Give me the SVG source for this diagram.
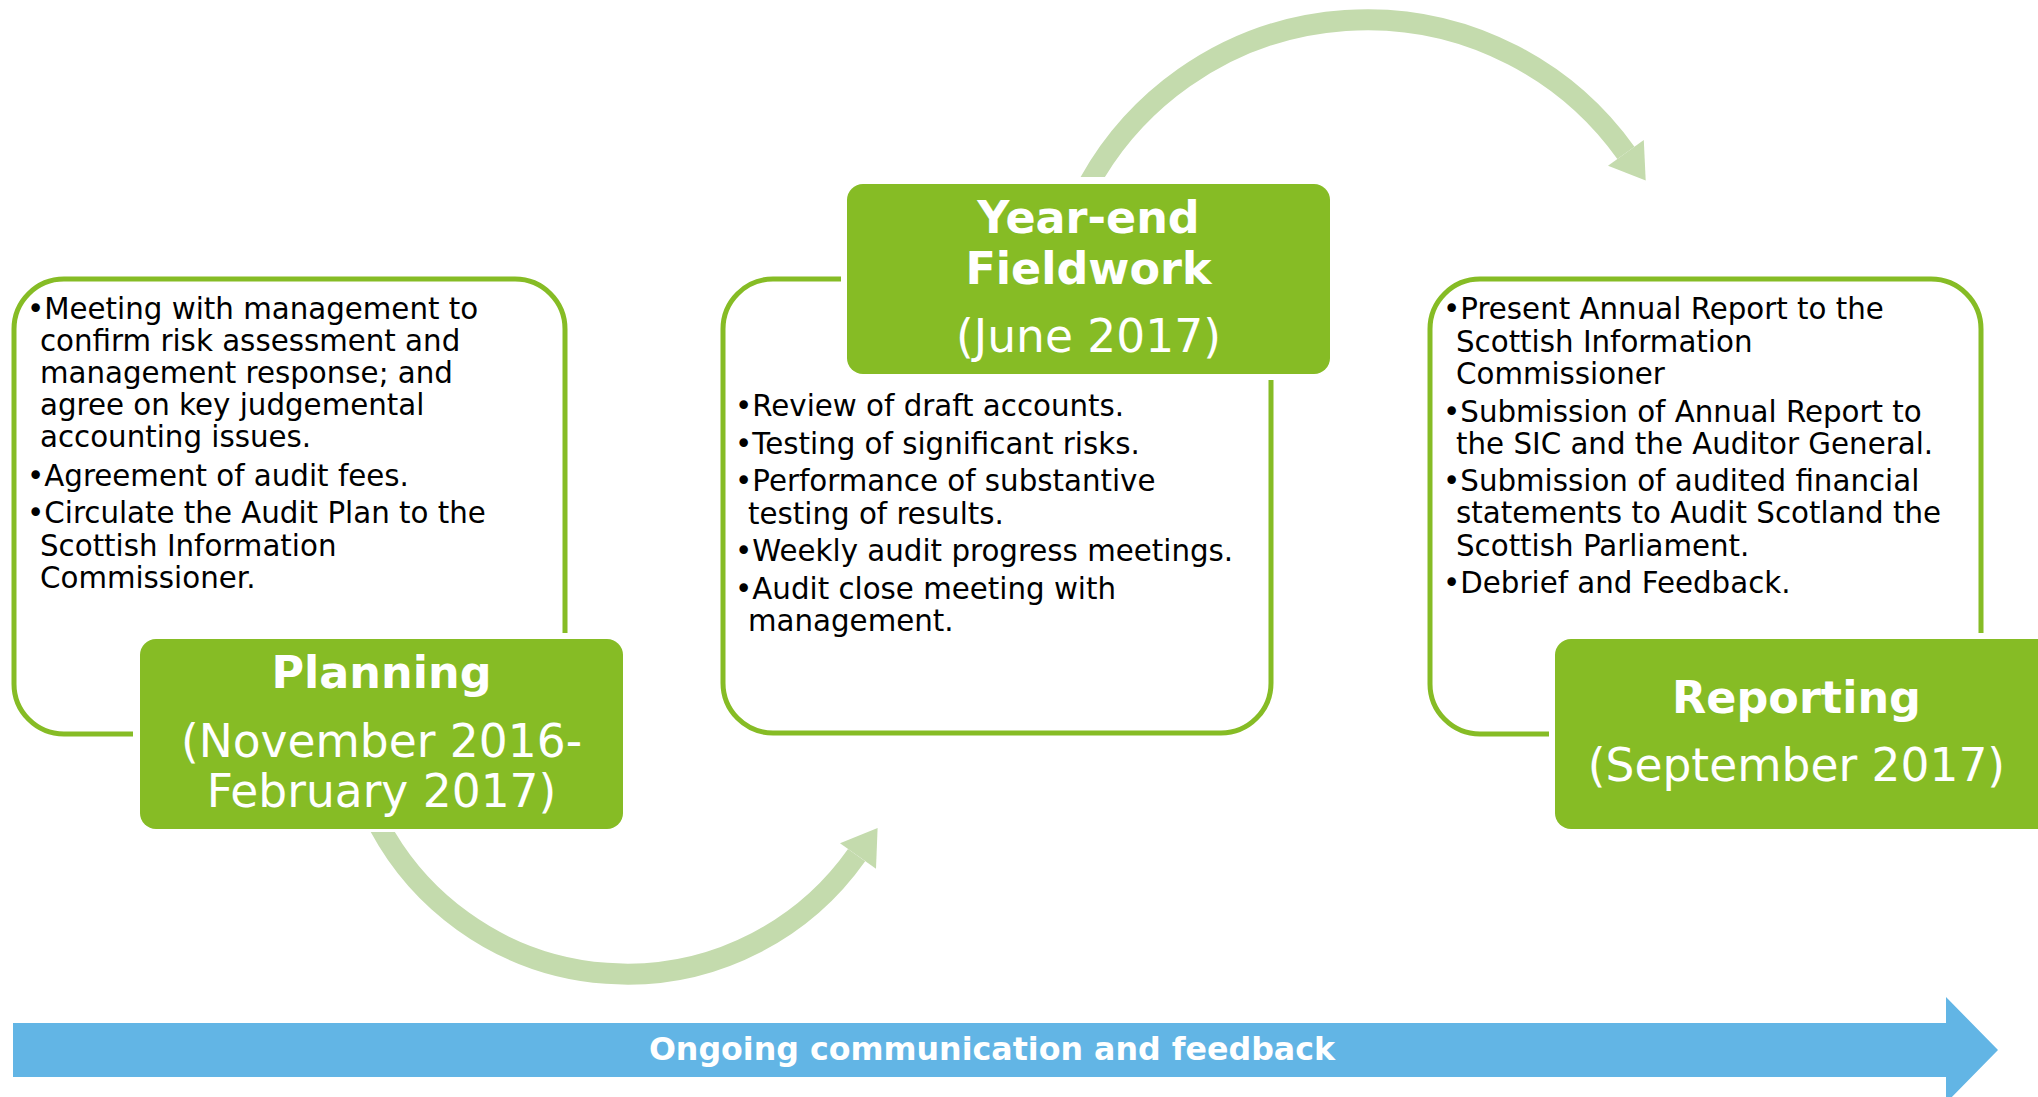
<svg xmlns="http://www.w3.org/2000/svg" width="2038" height="1097" viewBox="0 0 2038 1097">
<style>
.outline{fill:none;stroke:#86bc25;stroke-width:5}
.box{fill:#86bc25}
.body{font-family:"DejaVu Sans",Verdana,sans-serif;font-size:29.3px;fill:#000}
.title{font-family:"DejaVu Sans",Verdana,sans-serif;font-size:44.5px;font-weight:bold;fill:#fff;text-anchor:middle}
.date{font-family:"DejaVu Sans",Verdana,sans-serif;font-size:45.5px;fill:#fff;text-anchor:middle}
.arc{fill:none;stroke:#c4dbad;stroke-width:21}
.head{fill:#c4dbad}
.bar{fill:#62b5e5}
.bartext{font-family:"DejaVu Sans",Verdana,sans-serif;font-size:31.7px;font-weight:bold;fill:#fff;text-anchor:middle}
</style>
<defs>
<clipPath id="clipTop"><rect x="0" y="0" width="2038" height="177"/></clipPath>
<clipPath id="clipBottom"><rect x="0" y="832" width="2038" height="265"/></clipPath>
</defs>
<g id="connectors">
<path class="arc" clip-path="url(#clipTop)" d="M1085.5 190 A318 318 0 0 1 1625.9 152.9"/>
<polygon class="head" points="1643.8,140.1 1645.7,180.6 1608,165.7"/>
<path class="arc" clip-path="url(#clipBottom)" d="M376.3 820 A281 281 0 0 0 856.6 855.1"/>
<polygon class="head" points="840,843.3 877.6,828 876,868.7"/>
</g>
<g id="planning">
<path class="outline" d="M565 633 V329 A50 50 0 0 0 515 279 H64 A50 50 0 0 0 14 329 V684 A50 50 0 0 0 64 734 H133"/>
<text class="body"><tspan x="27" y="319">•Meeting with management to</tspan><tspan x="40" y="351">confirm risk assessment and</tspan><tspan x="40" y="383">management response; and</tspan><tspan x="40" y="415">agree on key judgemental</tspan><tspan x="40" y="447">accounting issues.</tspan><tspan x="27" y="486">•Agreement of audit fees.</tspan><tspan x="27" y="523">•Circulate the Audit Plan to the</tspan><tspan x="40" y="555.5">Scottish Information</tspan><tspan x="40" y="588">Commissioner.</tspan></text>
<rect class="box" x="140" y="639" width="483" height="190" rx="16"/>
<text class="title" x="381.5" y="688">Planning</text>
<text class="date" x="381.5" y="757">(November 2016-</text>
<text class="date" x="381.5" y="807">February 2017)</text>
</g>
<g id="fieldwork">
<path class="outline" d="M841 279 H773 A50 50 0 0 0 723 329 V683 A50 50 0 0 0 773 733 H1221 A50 50 0 0 0 1271 683 V380"/>
<text class="body"><tspan x="735" y="416">•Review of draft accounts.</tspan><tspan x="735" y="454">•Testing of significant risks.</tspan><tspan x="735" y="491">•Performance of substantive</tspan><tspan x="748" y="523.5">testing of results.</tspan><tspan x="735" y="561">•Weekly audit progress meetings.</tspan><tspan x="735" y="598.5">•Audit close meeting with</tspan><tspan x="748" y="631">management.</tspan></text>
<rect class="box" x="847" y="184" width="483" height="190" rx="16"/>
<text class="title" x="1088.5" y="233">Year-end</text>
<text class="title" x="1088.5" y="283.5">Fieldwork</text>
<text class="date" x="1088.5" y="352">(June 2017)</text>
</g>
<g id="reporting">
<path class="outline" d="M1981 633 V329 A50 50 0 0 0 1931 279 H1480 A50 50 0 0 0 1430 329 V684 A50 50 0 0 0 1480 734 H1549"/>
<text class="body"><tspan x="1443" y="319">•Present Annual Report to the</tspan><tspan x="1456" y="351.5">Scottish Information</tspan><tspan x="1456" y="383.5">Commissioner</tspan><tspan x="1443" y="421.5">•Submission of Annual Report to</tspan><tspan x="1456" y="453.5">the SIC and the Auditor General.</tspan><tspan x="1443" y="491">•Submission of audited financial</tspan><tspan x="1456" y="523">statements to Audit Scotland the</tspan><tspan x="1456" y="555.5">Scottish Parliament.</tspan><tspan x="1443" y="592.5">•Debrief and Feedback.</tspan></text>
<rect class="box" x="1555" y="639" width="500" height="190" rx="16"/>
<text class="title" x="1796.5" y="713">Reporting</text>
<text class="date" x="1796.5" y="781">(September 2017)</text>
</g>
<g id="communication">
<polygon class="bar" points="13,1023 1946,1023 1946,997 1998,1050 1946,1103 1946,1077 13,1077"/>
<text class="bartext" x="992" y="1060">Ongoing communication and feedback</text>
</g>
</svg>
